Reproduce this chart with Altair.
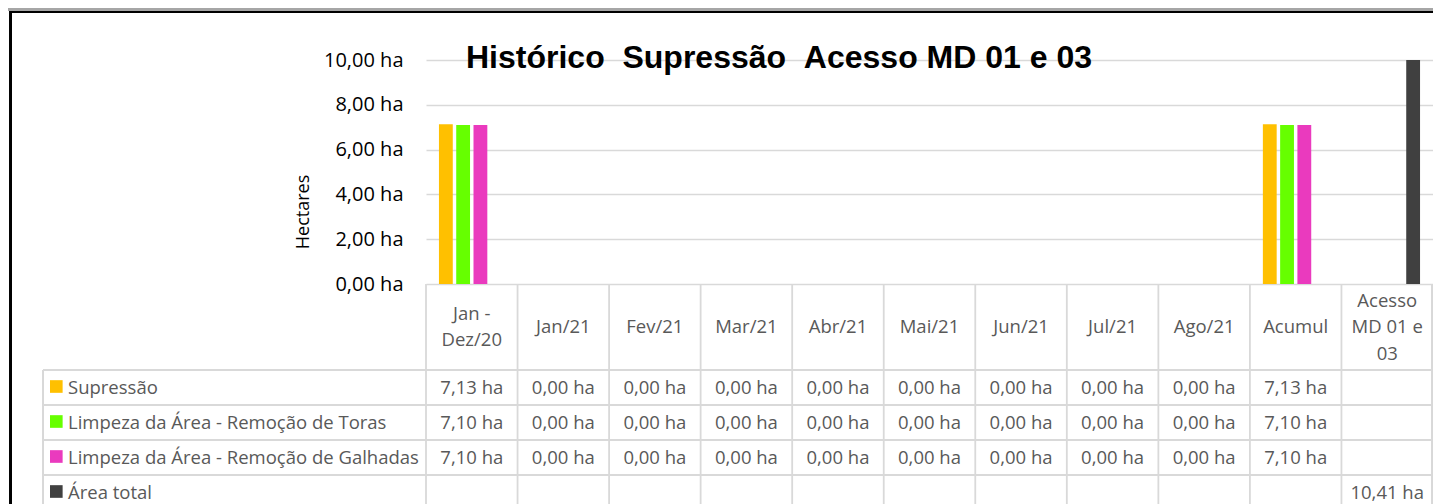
import altair as alt
import pandas as pd

# ---- data ----
categories = ["Jan - Dez/20", "Jan/21", "Fev/21", "Mar/21", "Abr/21", "Mai/21",
              "Jun/21", "Jul/21", "Ago/21", "Acumul", "Acesso MD 01 e 03"]
header_labels = ["Jan -|Dez/20", "Jan/21", "Fev/21", "Mar/21", "Abr/21", "Mai/21",
                 "Jun/21", "Jul/21", "Ago/21", "Acumul", "Acesso|MD 01 e|03"]
series = ["Supressão", "Limpeza da Área - Remoção de Toras",
          "Limpeza da Área - Remoção de Galhadas", "Área total"]
supressao = [7.13, 0, 0, 0, 0, 0, 0, 0, 0, 7.13, None]
toras = [7.10, 0, 0, 0, 0, 0, 0, 0, 0, 7.10, None]
galhadas = [7.10, 0, 0, 0, 0, 0, 0, 0, 0, 7.10, None]
area_total = [None, None, None, None, None, None, None, None, None, None, 10.41]
colors = ["#FFC000", "#66FF00", "#EA3ABE", "#404040"]
y_ticks = [0, 2, 4, 6, 8, 10]
title_text = "Histórico \u00a0Supressão \u00a0Acesso MD 01 e 03"

rows = []
for s, vals in zip(series, [supressao, toras, galhadas, area_total]):
    for c, v in zip(categories, vals):
        if v is not None:
            rows.append({"cat": c, "series": s, "value": v,
                         "label": f"{v:.2f}".replace(".", ",") + " ha"})
df = pd.DataFrame(rows)
hdr = pd.DataFrame({"cat": categories, "hdr": header_labels,
                    "nlines": [h.count("|") + 1 for h in header_labels]})
ser = pd.DataFrame({"series": series})

W, H = 1007, 224
FONT = "Open Sans"
GRID = "#D9D9D9"
TXT = "#595959"
LH = 26.5

xsc = alt.Scale(domain=categories, paddingInner=0, paddingOuter=0)
csc = alt.Scale(domain=series, range=colors)

bars = alt.Chart(df).mark_bar(clip=True).encode(
    x=alt.X("cat:N", sort=categories, scale=xsc, axis=None),
    xOffset=alt.XOffset("series:N", sort=series,
                        scale=alt.Scale(domain=series, paddingInner=0.2, paddingOuter=0.75)),
    y=alt.Y("value:Q", scale=alt.Scale(domain=[0, 10]),
            axis=alt.Axis(values=y_ticks, title=None, grid=True, gridColor=GRID,
                          gridWidth=1.5, domain=False, ticks=False, labelPadding=23,
                          labelFont=FONT, labelFontSize=20, labelColor="#000000",
                          labelExpr="replace(format(datum.value, '.2f'), '.', ',') + ' ha'")),
    color=alt.Color("series:N", scale=csc, legend=None),
)

layers = [bars]

# column boundaries of the data table
layers.append(alt.Chart(hdr).mark_rule(color=GRID, strokeWidth=1.8).encode(
    x=alt.X("cat:N", sort=categories, scale=xsc, bandPosition=0),
    y=alt.value(224), y2=alt.value(460)))
layers.append(alt.Chart(hdr).mark_rule(color=GRID, strokeWidth=1.8).encode(
    x=alt.value(W - 1), y=alt.value(224), y2=alt.value(460)))
layers.append(alt.Chart(hdr).mark_rule(color=GRID, strokeWidth=1.8).encode(
    x=alt.value(-383), y=alt.value(310), y2=alt.value(460)))
for yy in [310, 345, 380, 415]:
    layers.append(alt.Chart(hdr).mark_rule(color=GRID, strokeWidth=1.8).encode(
        x=alt.value(-383), x2=alt.value(W - 1), y=alt.value(yy)))

# header labels (vertically centred blocks)
for n in [1, 2, 3]:
    layers.append(alt.Chart(hdr).transform_filter(alt.datum.nlines == n).mark_text(
        font=FONT, fontSize=18.5, color=TXT, lineBreak="|", lineHeight=LH,
        baseline="middle", align="center").encode(
        x=alt.X("cat:N", sort=categories, scale=xsc),
        y=alt.value(267 - (n - 1) * LH / 2), text="hdr:N"))

# table rows
row_y = [327.5, 362.5, 397.5, 432.5]
for s, yy in zip(series, row_y):
    layers.append(alt.Chart(df).transform_filter(alt.datum.series == s).mark_text(
        font=FONT, fontSize=18.5, color=TXT, baseline="middle", align="center").encode(
        x=alt.X("cat:N", sort=categories, scale=xsc), y=alt.value(yy), text="label:N"))
    layers.append(alt.Chart(ser).transform_filter(alt.datum.series == s).mark_square(
        size=160, opacity=1, filled=True).encode(
        x=alt.value(-369.7), y=alt.value(yy - 1), color=alt.Color("series:N", scale=csc, legend=None)))
    layers.append(alt.Chart(ser).transform_filter(alt.datum.series == s).mark_text(
        font=FONT, fontSize=18.5, color=TXT, baseline="middle", align="left").encode(
        x=alt.value(-358), y=alt.value(yy), text="series:N"))

# title and y title
layers.append(alt.Chart(hdr).transform_filter(alt.datum.cat == categories[0]).mark_text(
    font="Liberation Sans", fontWeight="bold", fontSize=32, color="#000000",
    align="center", baseline="alphabetic").encode(
    x=alt.value(353), y=alt.value(7.5), text=alt.value(title_text)))
layers.append(alt.Chart(hdr).transform_filter(alt.datum.cat == categories[0]).mark_text(
    font=FONT, fontSize=18, color="#000000", angle=270,
    align="center", baseline="middle").encode(
    x=alt.value(-122), y=alt.value(152), text=alt.value("Hectares")))

# outer frame
layers.append(alt.Chart(hdr).mark_rule(color="#000000", strokeWidth=2).encode(
    x=alt.value(-430), x2=alt.value(W + 10), y=alt.value(-53.3)))
layers.append(alt.Chart(hdr).mark_rule(color="#A6A6A6", strokeWidth=2.5).encode(
    x=alt.value(-430), x2=alt.value(W + 10), y=alt.value(-50.7)))
layers.append(alt.Chart(hdr).mark_rule(color="#000000", strokeWidth=2).encode(
    x=alt.value(-416), x2=alt.value(W + 10), y=alt.value(-48)))
layers.append(alt.Chart(hdr).mark_rule(color="#000000", strokeWidth=2).encode(
    x=alt.value(-415.3), y=alt.value(-49), y2=alt.value(460)))

chart = alt.layer(*layers).properties(
    width=W, height=H,
    padding={"left": 418, "top": 52, "right": 0, "bottom": 220},
    autosize=alt.AutoSizeParams(type="none"),
).configure_view(stroke=None)

chart.save("out.html", embed_options={"renderer": "svg", "actions": False})
